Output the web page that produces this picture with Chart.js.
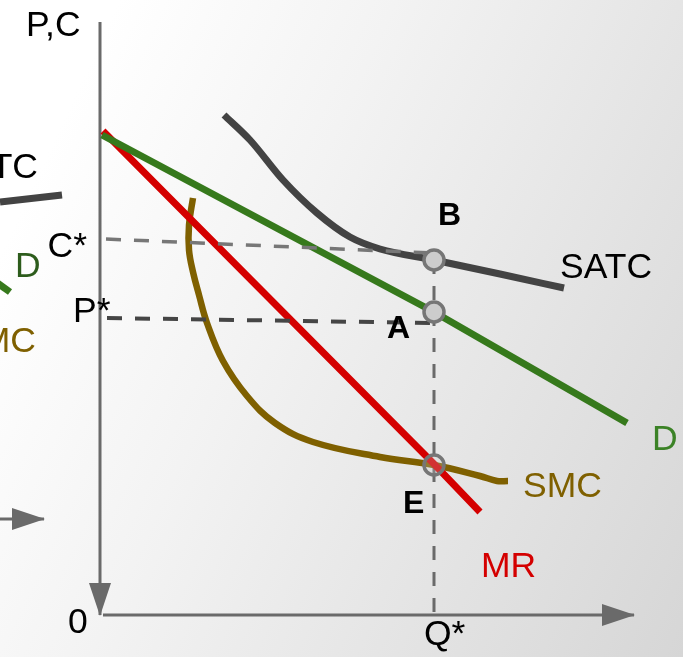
<!DOCTYPE html>
<html>
<head>
<meta charset="utf-8">
<script src="https://cdn.jsdelivr.net/npm/chart.js@4.4.0/dist/chart.umd.min.js"></script>
<style>
html, body { margin: 0; padding: 0; }
body {
    width: 683px;
    height: 657px;
    overflow: hidden;
    background: linear-gradient(115deg, #ffffff 12%, #f3f3f3 40%, #e2e2e2 75%, #d6d6d6 100%);
}
#wrap { position: relative; width: 683px; height: 657px; }
</style>
</head>
<body>
<div id="wrap"><canvas id="myChart"></canvas></div>
<script>
// curves as [quantity, price / cost] pairs, origin at the "0" corner
const demand = [[2, 480], [334, 303], [527, 192]]
const marginalRevenue = [[3, 484], [334, 151], [380, 103]]
const satc = [[124, 500], [150, 475], [183, 435], [217, 402], [250, 378], [280, 366], [334, 355], [400, 341], [464, 327]]
const smc = [[93, 417], [89, 390], [89, 365], [93, 343], [99, 320], [107, 292], [123, 254], [147, 219],
    [175, 192], [213, 173], [280, 158], [334, 150], [380, 139], [397, 134], [408, 134]]

// equilibrium points and guide lines
const pointB = [[334, 355]]
const pointA = [[334, 303]]
const pointE = [[334, 150]]
const costLine = [[6, 376], [334, 362]]
const priceLine = [[7, 297], [334, 292]]
const quantityLine = [[334, 355], [334, 0]]

// axes
const priceAxis = [[0, 593], [0, 0]]
const quantityAxis = [[3, 0], [534, 0]]

// pieces of the neighbouring diagram cut by the left edge
const leftAtc = [[-100, 413], [-38, 420]]
const leftDemand = [[-104, 333], [-90, 323]]
const leftArrow = [[-100, 96], [-56, 96]]

const toXY = arr => arr.map(d => ({ x: d[0], y: d[1] }))

const FONT = '"Liberation Sans", Arial, sans-serif'
const annotations = [
    { text: 'P,C', q: -74, p: 579, color: '#000' },
    { text: 'SATC', q: -62, p: 437, color: '#000', align: 'right' },
    { text: 'C*', q: -13, p: 358, color: '#000', align: 'right' },
    { text: 'D', q: -85, p: 338, color: '#2d5c1c' },
    { text: 'P*', q: -27, p: 293, color: '#000' },
    { text: 'SMC', q: -64, p: 263, color: '#7f6000', align: 'right' },
    { text: 'B', q: 338, p: 390, color: '#000', bold: true },
    { text: 'SATC', q: 460, p: 337, color: '#000' },
    { text: 'A', q: 287, p: 277, color: '#000', bold: true },
    { text: 'D', q: 552, p: 165, color: '#3b8226' },
    { text: 'SMC', q: 423, p: 118, color: '#7f6000' },
    { text: 'E', q: 303, p: 102, color: '#000', bold: true },
    { text: 'MR', q: 381, p: 38, color: '#d40000' },
    { text: '0', q: -32, p: -18, color: '#000' },
    { text: 'Q*', q: 324, p: -30, color: '#000' }
]

const arrowHeads = {
    id: 'arrowHeads',
    afterDatasetsDraw(chart) {
        const ctx = chart.ctx
        chart.data.datasets.forEach((ds, i) => {
            if (!ds.arrow) return
            const pts = chart.getDatasetMeta(i).data
            const a = pts[pts.length - 2], b = pts[pts.length - 1]
            const ang = Math.atan2(b.y - a.y, b.x - a.x)
            ctx.save()
            ctx.translate(b.x, b.y)
            ctx.rotate(ang)
            ctx.fillStyle = ds.borderColor
            ctx.beginPath()
            ctx.moveTo(1, 0)
            ctx.lineTo(-32, -11)
            ctx.lineTo(-32, 11)
            ctx.closePath()
            ctx.fill()
            ctx.restore()
        })
    }
}

const textLabels = {
    id: 'textLabels',
    afterDraw(chart) {
        const ctx = chart.ctx
        const xs = chart.scales.x, ys = chart.scales.y
        ctx.save()
        annotations.forEach(l => {
            ctx.font = (l.bold ? 'bold 32px ' : '35.5px ') + FONT
            ctx.fillStyle = l.color
            ctx.textAlign = l.align || 'left'
            ctx.textBaseline = 'alphabetic'
            ctx.fillText(l.text, xs.getPixelForValue(l.q), ys.getPixelForValue(l.p))
        })
        ctx.restore()
    }
}

const line = (data, color, width, extra) => Object.assign({
    data: toXY(data),
    showLine: true,
    borderColor: color,
    borderWidth: width,
    pointRadius: 0,
    fill: false
}, extra || {})

const marker = (data, fill) => ({
    data: toXY(data),
    showLine: false,
    pointRadius: 10,
    pointBackgroundColor: fill,
    pointBorderColor: '#767676',
    pointBorderWidth: 3.5,
    order: 0
})

const context = document.getElementById('myChart').getContext('2d')
const myChart = new Chart(context, {
    type: 'scatter',
    data: {
        datasets: [
            marker(pointB, '#cccccc'),
            marker(pointA, '#cccccc'),
            marker(pointE, 'rgba(204,204,204,0.25)'),
            line(costLine, '#777777', 3.5, { borderDash: [15, 13], order: 1 }),
            line(priceLine, '#454545', 4, { borderDash: [15, 13], order: 1 }),
            line(quantityLine, '#6a6a6a', 3, { borderDash: [14, 12], order: 3 }),
            line(satc, '#434343', 7, { cubicInterpolationMode: 'monotone', order: 2 }),
            line(demand, '#36791c', 7, { order: 2 }),
            line(marginalRevenue, '#d40000', 7, { order: 2 }),
            line(smc, '#7f6000', 6.5, { tension: 0.4, order: 2 }),
            line(priceAxis, '#6a6a6a', 3, { arrow: true, order: 4 }),
            line(quantityAxis, '#6a6a6a', 3, { arrow: true, order: 4 }),
            line(leftAtc, '#434343', 7, { order: 4 }),
            line(leftDemand, '#36791c', 7, { order: 4 }),
            line(leftArrow, '#6a6a6a', 3, { arrow: true, order: 4 })
        ]
    },
    options: {
        responsive: true,
        maintainAspectRatio: false,
        animation: false,
        layout: { padding: 0, autoPadding: false },
        plugins: {
            legend: { display: false },
            tooltip: { enabled: false }
        },
        scales: {
            x: { type: 'linear', min: -100, max: 583, display: false },
            y: { type: 'linear', min: -42, max: 615, display: false }
        }
    },
    plugins: [arrowHeads, textLabels]
})
</script>
</body>
</html>
